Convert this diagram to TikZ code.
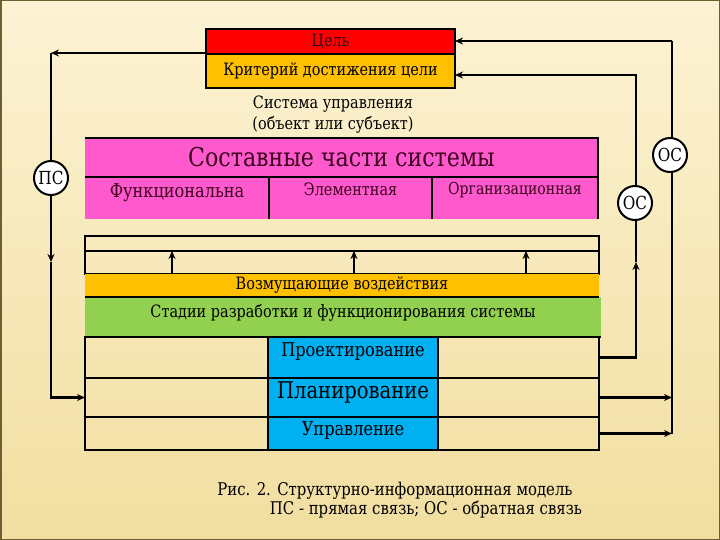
\documentclass[tikz,border=0pt]{standalone}
\usepackage{fontspec}
\setmainfont{DejaVu Serif}[FakeStretch=0.85]
\usetikzlibrary{arrows.meta}

\definecolor{bgtop}{RGB}{252,243,212}
\definecolor{bgbot}{RGB}{241,222,160}
\definecolor{rama}{RGB}{110,95,50}
\definecolor{celred}{RGB}{255,0,0}
\definecolor{amber}{RGB}{255,192,0}
\definecolor{rosa}{RGB}{255,90,205}
\definecolor{verde}{RGB}{146,208,80}
\definecolor{azul}{RGB}{0,176,240}
\definecolor{tinta}{RGB}{60,0,30}

\newcommand\fsz[2]{\fontsize{#1}{#2}\selectfont}

\tikzset{
  cell/.style={draw=black, line width=2pt, inner sep=0pt, outer sep=0pt},
  bare/.style={inner sep=0pt, outer sep=0pt},
  link/.style={line width=2.4pt, -{Stealth[length=8pt,width=7pt]}},
  wire/.style={line width=2.4pt},
  ring/.style={circle, draw=black, fill=white, line width=2pt, minimum size=34pt,
    inner sep=0pt, font=\fsz{18}{18}}
}

\begin{document}
\begin{tikzpicture}[x=1pt,y=-1pt]
    \useasboundingbox (0,0) rectangle (720,540);
    \shade[top color=bgtop, bottom color=bgbot] (0,0) rectangle (720,540);
    \draw[rama, line width=1.5pt] (0.75,0.75) rectangle (719.25,539.25);

    % goal and criterion
    \node[cell, fill=celred, minimum width=249pt, minimum height=25pt, font=\fsz{17}{17}, text=tinta] (goal) at (330.5,41.5) {Цель};
    \node[cell, fill=amber, minimum width=249pt, minimum height=34pt, font=\fsz{17}{20}] (crit) at (330.5,71) {Критерий достижения цели};

    \node[align=center, font=\fsz{17}{21}] (sys) at (333,115) {Система управления\\(объект или субъект)};

    % parts of the system
    \node[bare, fill=rosa, minimum width=513pt, minimum height=39pt, font=\fsz{26}{30}, text=tinta] (parts) at (341.5,157.5) {Составные части системы};
    \node[bare, fill=rosa, minimum width=184pt, minimum height=42pt, label={[anchor=north, yshift=-3pt, font=\fsz{19}{20}, text=tinta]north:Функциональна}] (func) at (177,198) {};
    \node[bare, fill=rosa, minimum width=163pt, minimum height=42pt, label={[anchor=north, yshift=-2pt, font=\fsz{17}{18}, text=tinta]north:Элементная}] (elem) at (350.5,198) {};
    \node[bare, fill=rosa, minimum width=166pt, minimum height=42pt, label={[anchor=north, yshift=-2pt, font=\fsz{16.5}{18}, text=tinta]north:Организационная}] (org) at (515,198) {};
    \draw[line width=2pt] (parts.north west) -- (parts.north east) -- (org.south east);
    \draw[line width=2pt] (parts.south west) -- (parts.south east);
    \draw[line width=1.5pt] (func.north east) -- (func.south east);
    \draw[line width=1.5pt] (elem.north east) -- (elem.south east);

    % disturbances
    \node[cell, line width=1.5pt, minimum width=514pt, minimum height=38pt] (bus) at (342,255) {};
    \draw[line width=1.5pt] ([yshift=-15pt]bus.north west) -- ([yshift=-15pt]bus.north east);
    \draw[line width=2.5pt] (bus.north west) -- (bus.north east);
    \node[bare, fill=amber, minimum width=514pt, minimum height=23pt, font=\fsz{17}{18}] (dist) at (342,285.5) {Возмущающие воздействия};
    \foreach \xa in {172,354,526}
        \draw[link, line width=2pt] (\xa,0 |- dist.north) -- (\xa,251);
    \node[bare, fill=verde, minimum width=516pt, minimum height=40pt, label={[anchor=north, yshift=-4pt, font=\fsz{17}{18}]north:Стадии разработки и функционирования системы}] (stages) at (343,317) {};
    \draw[line width=2pt] (dist.south west) -- (dist.south east);
    \draw[line width=2pt] (stages.south west) -- (stages.south east);

    % stages table
    \foreach \rn/\yc/\hh/\txt/\fs/\up in {proj/357.5/41/Проектирование/19/6, plan/397.5/39/Планирование/23/5, upr/433.5/33/Управление/19/3} {
        \node[cell, minimum width=183pt, minimum height=\hh pt] (\rn-L) at (176.5,\yc) {};
        \node[cell, fill=azul, minimum width=170pt, minimum height=\hh pt, label={[yshift=\up pt, font=\fsz{\fs}{\fs}]center:\txt}] (\rn-M) at (353,\yc) {};
        \node[cell, minimum width=161pt, minimum height=\hh pt] (\rn-R) at (518.5,\yc) {};
    }

    % direct link
    \coordinate (lt) at (51,53);
    \coordinate (ldn) at (51,262);
    \draw[link] ([yshift=1pt]goal.south west) -- (lt);
    \draw[link] (lt) -- (ldn);
    \draw[link] (ldn) |- (plan-L.west);
    \node[ring] (ps) at (51,178) {ПС};

    % feedback, outer
    \coordinate (rt) at (672,41);
    \draw[link] (rt) -- (rt -| goal.east);
    \draw[wire] (rt) -- (rt |- upr-R.east);
    \draw[link] (plan-R.east) -- (plan-R.east -| rt);
    \draw[link] (upr-R.east) -- (upr-R.east -| rt);
    \node[ring] (osa) at (670,155) {ОС};

    % feedback, inner
    \coordinate (rup) at (636,262);
    \draw[link] (proj-R.east) -| (rup);
    \draw[link] (rup) |- ([yshift=-4pt]crit.east);
    \node[ring] (osb) at (635,203) {ОС};

    % caption
    \node[font=\fsz{17.5}{18}] (cap) at (395,491) {Рис. 2. Структурно-информационная модель};
    \node[font=\fsz{17.5}{18}] (capb) at (426,510) {ПС - прямая связь; ОС - обратная связь};
\end{tikzpicture}
\end{document}
